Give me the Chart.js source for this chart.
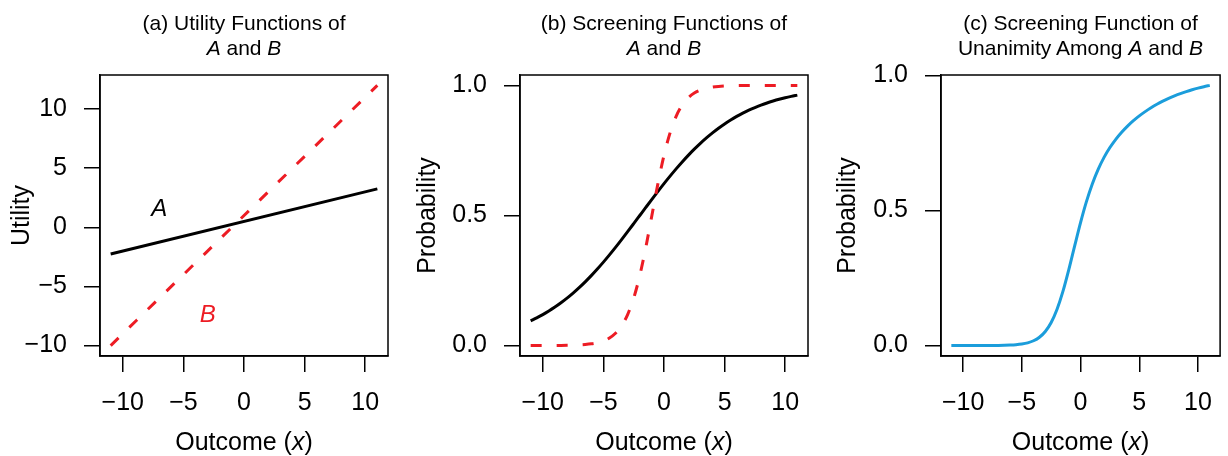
<!DOCTYPE html>
<html>
<head>
<meta charset="utf-8">
<script src="https://cdn.jsdelivr.net/npm/chart.js@4.4.1/dist/chart.umd.min.js"></script>
<style>
  body { margin: 0; background: #fff; font-family: "Liberation Sans", Arial, sans-serif; }
  #wrap { position: relative; width: 1228px; height: 456px; overflow: hidden; background: #fff; }
  #wrap canvas { position: absolute; top: 0; }
  .ttl { position: absolute; top: 10px; text-align: center; font-size: 21px; line-height: 25px; white-space: nowrap; color: #000; }
  .xlab { position: absolute; top: 426px; text-align: center; font-size: 25px; line-height: 30px; white-space: nowrap; color: #000; }
</style>
</head>
<body>
<div id="wrap"></div>
<script>
// outcome grid shared by the screening curves
const outcome = [-11,-10.5,-10,-9.5,-9,-8.5,-8,-7.5,-7,-6.5,-6,-5.5,-5,-4.5,-4,-3.5,-3,-2.5,-2,-1.5,-1,-0.5,0,0.5,1,1.5,2,2.5,3,3.5,4,4.5,5,5.5,6,6.5,7,7.5,8,8.5,9,9.5,10,10.5,11]

// (a) utilities, straight lines read at the two ends
const utilOutcome = [-11, 11]
const utilityA = [-2.25, 3.25]
const utilityB = [-10, 12]

// (b) screening probabilities
const screenA = [0.0953,0.1067,0.1192,0.1330,0.1480,0.1645,0.1824,0.2018,0.2227,0.2451,0.2689,0.2942,0.3208,0.3487,0.3775,0.4073,0.4378,0.4688,0.5000,0.5312,0.5622,0.5927,0.6225,0.6513,0.6792,0.7058,0.7311,0.7549,0.7773,0.7982,0.8176,0.8355,0.8520,0.8670,0.8808,0.8933,0.9047,0.9149,0.9241,0.9325,0.9399,0.9466,0.9526,0.9579,0.9627]
const screenB = [0.00005,0.00007,0.00012,0.0002,0.00034,0.00055,0.00091,0.0015,0.0025,0.0041,0.0067,0.011,0.018,0.0293,0.0474,0.0759,0.1192,0.1824,0.2689,0.3775,0.5,0.6225,0.7311,0.8176,0.8808,0.9241,0.9526,0.9707,0.982,0.989,0.9933,0.9959,0.9975,0.9985,0.9991,0.9994,0.9997,0.9998,0.9999,0.9999,1,1,1,1,1]

// (c) unanimity
const unanimity = [0.000004,0.000008,0.000015,0.000027,0.00005,0.00009,0.00017,0.0003,0.00055,0.001,0.0018,0.0032,0.0058,0.0102,0.0179,0.0309,0.0522,0.0855,0.1345,0.2005,0.2811,0.369,0.4551,0.5325,0.5982,0.6522,0.6965,0.7328,0.7633,0.7894,0.8121,0.8321,0.8499,0.8657,0.88,0.8928,0.9044,0.9147,0.924,0.9324,0.9399,0.9466,0.9526,0.9579,0.9627]

// ticks
const xTicks = [-10, -5, 0, 5, 10]
const xTickLabels = ['\u221210', '\u22125', '0', '5', '10']
const utilTicks = [-10, -5, 0, 5, 10]
const utilTickLabels = ['\u221210', '\u22125', '0', '5', '10']
const probTicks = [0, 0.5, 1]
const probTickLabels = ['0.0', '0.5', '1.0']

const BLACK = '#000000'
const RED = '#ED1C24'
const BLUE = '#1B9DDB'
const FONT = '"Liberation Sans", Arial, sans-serif'

const toPoints = (xs, ys) => xs.map((x, i) => ({ x: x, y: ys[i] }))

// draws the closed box round the plot region, and any in-plot labels
const frameBox = {
  id: 'frameBox',
  afterDraw(chart, args, opts) {
    const { ctx, chartArea: a, scales } = chart
    ctx.save()
    ctx.strokeStyle = '#000'
    ctx.lineWidth = 1.5
    ctx.strokeRect(a.left, a.top, a.width, a.height)
    ;(opts.notes || []).forEach(n => {
      ctx.font = 'italic 24px ' + FONT
      ctx.fillStyle = n.color
      ctx.textAlign = 'center'
      ctx.textBaseline = 'middle'
      ctx.fillText(n.text, scales.x.getPixelForValue(n.x), scales.y.getPixelForValue(n.y))
    })
    ctx.restore()
  }
}

const makeAxis = (min, max, ticks, labels, extra) => Object.assign({
  type: 'linear',
  min: min,
  max: max,
  afterBuildTicks: s => { s.ticks = ticks.map(v => ({ value: v })) },
  ticks: {
    autoSkip: false,
    maxRotation: 0,
    color: '#000',
    font: { family: FONT, size: 25 },
    padding: 16,
    callback: (v, i) => labels[i]
  },
  grid: { drawOnChartArea: false, drawTicks: true, tickLength: 16, color: '#000', lineWidth: 1.5 },
  border: { display: true, color: '#000', width: 1.5 }
}, extra)

const buildPanel = (p) => {
  const wrap = document.getElementById('wrap')
  const canvas = document.createElement('canvas')
  canvas.width = p.width
  canvas.height = 456
  canvas.style.left = p.left + 'px'
  wrap.appendChild(canvas)

  const xAxis = makeAxis(-11.88, 11.88, xTicks, xTickLabels, {
    afterFit: s => { s.height = 100 }
  })
  const yAxis = makeAxis(p.yMin, p.yMax, p.yTicks, p.yLabels, {
    afterFit: s => { s.width = p.axisWidth },
    title: { display: true, text: p.yTitle, color: '#000', font: { family: FONT, size: 25 }, padding: { top: p.yTitlePad, bottom: 0 } }
  })
  yAxis.ticks = Object.assign({}, yAxis.ticks, { padding: 17 })

  const chart = new Chart(canvas, {
    type: 'line',
    data: { datasets: p.datasets },
    options: {
      responsive: false,
      animation: false,
      devicePixelRatio: 1,
      layout: { padding: { top: 75, right: p.padRight, bottom: 0, left: 0 } },
      plugins: { legend: { display: false }, tooltip: { enabled: false }, frameBox: { notes: p.notes || [] } },
      elements: { point: { radius: 0 }, line: { borderWidth: 3, cubicInterpolationMode: 'monotone' } },
      scales: { x: xAxis, y: yAxis }
    },
    plugins: [frameBox]
  })

  const a = chart.chartArea
  const ttl = document.createElement('div')
  ttl.className = 'ttl'
  ttl.style.left = (p.left + a.left) + 'px'
  ttl.style.width = a.width + 'px'
  ttl.innerHTML = p.title
  wrap.appendChild(ttl)

  const xl = document.createElement('div')
  xl.className = 'xlab'
  xl.style.left = (p.left + a.left) + 'px'
  xl.style.width = a.width + 'px'
  xl.innerHTML = 'Outcome (<i>x</i>)'
  wrap.appendChild(xl)
  return chart
}

buildPanel({
  left: 0, width: 409, axisWidth: 100, padRight: 21,
  yMin: -10.88, yMax: 12.88, yTicks: utilTicks, yLabels: utilTickLabels,
  yTitle: 'Utility', yTitlePad: 7,
  title: '(a) Utility Functions of<br><i>A</i> and <i>B</i>',
  notes: [
    { text: 'A', x: -7, y: 1.5, color: BLACK },
    { text: 'B', x: -3, y: -7.4, color: RED }
  ],
  datasets: [
    { data: toPoints(utilOutcome, utilityA), borderColor: BLACK, fill: false },
    { data: toPoints(utilOutcome, utilityB), borderColor: RED, borderDash: [11, 15], fill: false }
  ]
})

buildPanel({
  left: 409, width: 409, axisWidth: 111, padRight: 10,
  yMin: -0.04, yMax: 1.04, yTicks: probTicks, yLabels: probTickLabels,
  yTitle: 'Probability', yTitlePad: 4,
  title: '(b) Screening Functions of<br><i>A</i> and <i>B</i>',
  datasets: [
    { data: toPoints(outcome, screenB), borderColor: RED, borderDash: [11, 15], fill: false },
    { data: toPoints(outcome, screenA), borderColor: BLACK, fill: false }
  ]
})

buildPanel({
  left: 818, width: 410, axisWidth: 123, padRight: 1,
  yMin: -0.0385, yMax: 1.0012, yTicks: probTicks, yLabels: probTickLabels,
  yTitle: 'Probability', yTitlePad: 15,
  title: '(c) Screening Function of<br>Unanimity Among <i>A</i> and <i>B</i>',
  datasets: [
    { data: toPoints(outcome, unanimity), borderColor: BLUE, fill: false }
  ]
})
</script>
</body>
</html>
